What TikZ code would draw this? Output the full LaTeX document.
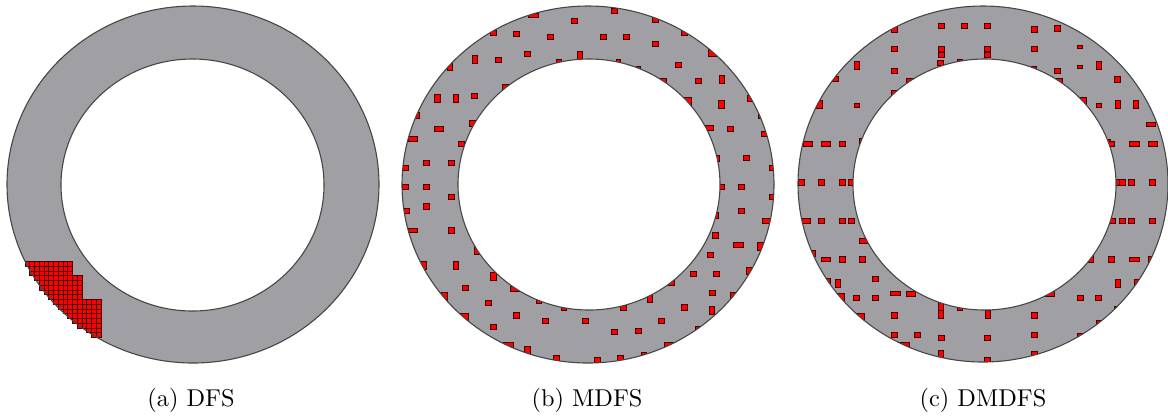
\documentclass[tikz,border=0pt]{standalone}
\usepackage{tikz}
\definecolor{ringgray}{RGB}{160,160,164}
\definecolor{ringedge}{RGB}{70,70,70}
\definecolor{sqedge}{RGB}{70,0,0}
\tikzset{
  ring/.style={fill=ringgray},
  ringline/.style={draw=ringedge, line width=0.45pt},
  redsq/.style={fill=red, draw=sqedge, line width=0.35pt},
  captext/.style={font=\normalsize, anchor=center, inner sep=0pt}
}
\newcommand\sqbox[4]{\draw[redsq] (#1-#3/2,#2-#4/2) rectangle (#1+#3/2,#2+#4/2);}
\newcommand\sqN[2]{\sqbox{#1}{#2}{18}{16}}
\newcommand\sqL[2]{\sqbox{#1}{#2}{24}{22}}
\newcommand\sqW[2]{\sqbox{#1}{#2}{28}{14}}
\newcommand\sqT[2]{\sqbox{#1}{#2}{16}{24}}
\newcommand\sqS[2]{\sqbox{#1}{#2}{14}{10}}
\newcommand\sqR[2]{\sqbox{#1}{#2}{10}{18}}
\begin{document}
\begin{tikzpicture}[x=0.411pt,y=-0.411pt]
\useasboundingbox (0,0) rectangle (1168,415);
% ---------------- (a) DFS ----------------
\fill[ring] (193,184.5) ellipse [x radius=186, y radius=178.5];
\fill[white] (192.5,185) ellipse [x radius=131.5, y radius=126];
\foreach \r in {0,...,15} {
  \pgfmathtruncatemacro\cmax{\r<3 ? 9 : (\r<8 ? 11 : 15)}
  \foreach \c in {0,...,\cmax} {
    \pgfmathsetmacro\dx{(25+4.75*(\c+0.5)-193)/186}
    \pgfmathsetmacro\dy{(261.5+4.75*(\r+0.5)-184.5)/178.5}
    \pgfmathtruncatemacro\ins{\dx*\dx+\dy*\dy<1 ? 1 : 0}
    \ifnum\ins=1
      \draw[redsq] (25+4.75*\c,261.5+4.75*\r) rectangle ++(4.75,4.75);
    \fi
  }
}
\draw[ringline] (193,184.5) ellipse [x radius=186, y radius=178.5];
\draw[ringline] (192.5,185) ellipse [x radius=131.5, y radius=126];
% ---------------- (b) MDFS ----------------
\fill[ring] (588,184.5) ellipse [x radius=186, y radius=178.5];
\begin{scope}
\clip (588,184.5) ellipse [x radius=186, y radius=178.5];
\begin{scope}[shift={(395,0)}, x=0.137pt, y=-0.137pt]
\sqW{415}{46} \sqN{659}{32} \sqN{538}{62} \sqN{781}{59} \sqN{295}{99}
\sqN{363}{102} \sqN{467}{111} \sqN{625}{111} \sqN{694}{111} \sqN{867}{99}
\sqN{781}{131} \sqL{953}{157} \sqN{398}{161} \sqT{555}{165} \sqT{239}{177}
\sqN{311}{179} \sqT{165}{200} \sqS{491}{183} \sqS{670}{183} \sqN{851}{195}
\sqS{730}{205} \sqW{801}{241} \sqN{909}{243} \sqT{981}{239} \sqN{331}{261}
\sqT{127}{295} \sqT{183}{295} \sqN{239}{287} \sqN{1066}{295} \sqL{877}{304}
\sqT{979}{313} \sqR{67}{347} \sqR{1095}{347} \sqN{231}{370} \sqW{132}{387}
\sqW{942}{384} \sqN{1007}{387} \sqW{53}{416} \sqN{1108}{402} \sqN{200}{431}
\sqN{93}{489} \sqN{168}{489} \sqN{32}{503} \sqR{968}{474} \sqN{1054}{474}
\sqN{1131}{503} \sqN{30}{561} \sqN{93}{561} \sqN{168}{590} \sqN{980}{561}
\sqN{1039}{561} \sqN{1131}{590} \sqN{35}{633} \sqN{93}{619} \sqR{966}{647}
\sqN{1039}{633} \sqW{53}{691} \sqN{168}{691} \sqW{1117}{662} \sqN{962}{706}
\sqT{245}{752} \sqW{1030}{735} \sqL{1099}{739} \sqT{85}{795} \sqT{183}{795}
\sqN{946}{765} \sqT{295}{830} \sqN{895}{821} \sqN{964}{821} \sqL{1066}{813}
\sqN{829}{847} \sqN{210}{864} \sqW{360}{867} \sqN{951}{879} \sqT{148}{890}
\sqT{1014}{890} \sqN{281}{908} \sqT{764}{896} \sqS{432}{904} \sqS{506}{927}
\sqN{685}{923} \sqN{867}{922} \sqT{951}{931} \sqL{208}{951} \sqN{363}{946}
\sqN{295}{980} \sqN{450}{963} \sqN{572}{963} \sqN{799}{962} \sqN{659}{996}
\sqN{729}{992} \sqS{908}{985} \sqW{340}{1035} \sqW{821}{1035} \sqT{397}{1051}
\sqN{485}{1075} \sqN{607}{1079} \sqN{677}{1075} \sqS{746}{1061}
\end{scope}
\end{scope}
\fill[white] (589,184.5) ellipse [x radius=131, y radius=125.5];
\draw[ringline] (588,184.5) ellipse [x radius=186, y radius=178.5];
\draw[ringline] (589,184.5) ellipse [x radius=131, y radius=125.5];
% ---------------- (c) DMDFS ----------------
\fill[ring] (983,184) ellipse [x radius=185, y radius=178];
\begin{scope}
\clip (983,184) ellipse [x radius=185, y radius=178];
\begin{scope}[shift={(790,0)}, x=0.137pt, y=-0.137pt]
\sqN{453}{78} \sqN{522}{78} \sqN{593}{78} \sqN{314}{88} \sqN{732}{88} \sqN{802}{85}
\sqN{314}{146} \sqN{453}{146} \sqN{593}{146} \sqN{732}{146} \sqS{870}{141}
\sqN{453}{165} \sqN{452}{188} \sqN{593}{165}
\sqS{509}{182} \sqS{732}{205}
\sqT{200}{197} \sqN{314}{212} \sqN{802}{212} \sqS{870}{200} \sqT{926}{197}
\sqN{135}{237} \sqW{363}{241} \sqW{804}{241} \sqN{983}{238}
\sqN{314}{278}
\sqT{88}{313} \sqS{200}{316} \sqL{878}{304} \sqS{926}{316} \sqT{983}{313} \sqT{1038}{313}
\sqW{1083}{373}
\sqW{53}{431} \sqW{108}{431} \sqN{156}{431} \sqR{212}{424} \sqR{957}{427} \sqN{965}{431} \sqW{1033}{431} \sqW{1088}{431}
\sqN{33}{547} \sqN{95}{547} \sqN{156}{547} \sqN{183}{547} \sqN{985}{547} \sqN{998}{547} \sqN{1025}{547} \sqN{1088}{547}
\sqW{47}{662} \sqN{95}{662} \sqN{156}{662} \sqN{185}{662} \sqN{966}{662} \sqN{996}{662} \sqN{1025}{662} \sqN{1088}{662}
\sqW{222}{723}
\sqR{70}{760} \sqW{108}{778} \sqN{156}{778} \sqN{218}{778} \sqT{903}{775} \sqN{965}{778} \sqW{1033}{778} \sqN{1083}{778}
\sqN{256}{836} \sqR{115}{843} \sqT{144}{851} \sqT{983}{851} \sqT{1040}{851}
\sqL{151}{890} \sqN{200}{893} \sqN{256}{893} \sqW{316}{880} \sqW{363}{881} \sqW{780}{881} \sqN{870}{893} \sqN{926}{893}
\sqT{453}{918} \sqS{509}{927} \sqN{983}{926}
\sqL{212}{951} \sqN{314}{946} \sqT{453}{943} \sqT{593}{943} \sqN{732}{946} \sqL{930}{971}
\sqN{314}{1005} \sqN{383}{1005} \sqN{453}{1013} \sqN{593}{1013} \sqN{732}{1005} \sqN{870}{1008}
\sqW{343}{1035} \sqT{453}{1063} \sqN{593}{1079} \sqN{732}{1063}
\end{scope}
\end{scope}
\fill[white] (984.5,184.5) ellipse [x radius=131.5, y radius=125.5];
\draw[ringline] (983,184) ellipse [x radius=185, y radius=178];
\draw[ringline] (984.5,184.5) ellipse [x radius=131.5, y radius=125.5];
% ---------------- captions ----------------
\node[captext] (capa) at (191,400) {(a) DFS};
\node[captext] (capb) at (587,400) {(b) MDFS};
\node[captext] (capc) at (983,400) {(c) DMDFS};
\end{tikzpicture}
\end{document}
